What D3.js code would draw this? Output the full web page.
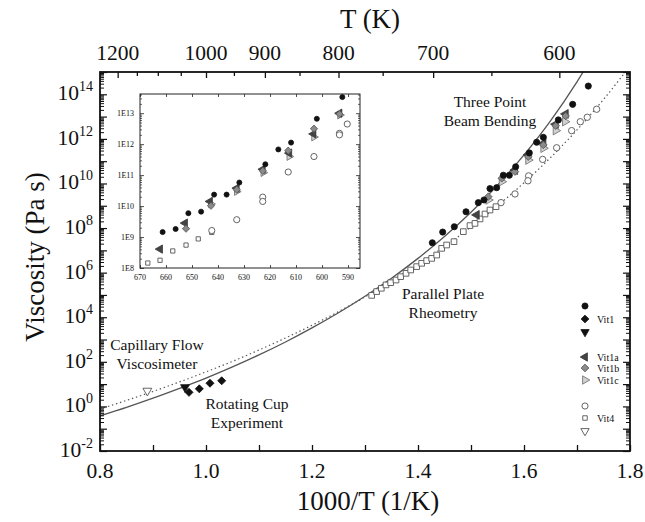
<!DOCTYPE html>
<html>
<head>
<meta charset="utf-8">
<script src="https://cdn.jsdelivr.net/npm/d3@7"></script>
<style>
  html, body { margin: 0; padding: 0; background: #fff; }
  svg { display: block; }
  text { font-family: "Liberation Serif", "Times New Roman", serif; fill: #111; }
</style>
</head>
<body>
<svg id="chart" width="645" height="522"></svg>
<script>
// ---- data: [1000/T (1/K), log10 viscosity (Pa s)] ----
const vit1Circles = [
  [1.7213, 14.37], [1.6918, 13.55], [1.6648, 12.85], [1.6365, 12.07], [1.6239, 11.85],
  [1.6100, 11.37], [1.5843, 10.75], [1.5723, 10.37], [1.5610, 10.37], [1.5484, 9.81],
  [1.5358, 9.77], [1.5245, 9.26], [1.5138, 9.14], [1.4906, 8.73], [1.4685, 8.06],
  [1.4466, 7.82], [1.4270, 7.34]
];
const vit1Diamonds = [[0.9679, 0.63], [0.9874, 0.79], [1.0075, 1.04], [1.0296, 1.15]];
const vit1DownTri = [[0.9604, 0.86]];
const vit1aLeftTri = [
  [1.5107, 8.59], [1.6786, 13.12], [1.6598, 12.66], [1.6365, 11.80], [1.6080, 11.28], [1.5830, 10.60]
];
const vit1bDiamonds = [
  [1.6786, 13.03], [1.6598, 12.59], [1.6365, 11.73], [1.6080, 11.20], [1.5830, 10.53],
  [1.5580, 10.23], [1.5327, 9.41]
];
const vit1cRightTri = [
  [1.6774, 12.77], [1.6598, 12.37], [1.6365, 11.58], [1.6080, 11.05], [1.5580, 10.08], [1.5327, 9.26]
];
const vit4Circles = [
  [1.7371, 13.33], [1.7194, 12.97], [1.7062, 12.77], [1.6899, 12.37], [1.6616, 11.60],
  [1.6352, 11.08], [1.6088, 10.34], [1.6075, 10.12], [1.5830, 9.53], [1.5566, 9.14]
];
const vit4Squares = [
  [1.3126, 4.98], [1.3219, 5.15], [1.3308, 5.30], [1.3396, 5.45], [1.3484, 5.55],
  [1.3585, 5.67], [1.3673, 5.82], [1.3774, 5.97], [1.3862, 6.12], [1.3975, 6.27],
  [1.4069, 6.42], [1.4164, 6.54], [1.4258, 6.64], [1.4353, 6.79], [1.4447, 7.09],
  [1.4540, 7.24], [1.4679, 7.39], [1.4855, 7.84], [1.4981, 8.11], [1.5075, 8.21],
  [1.5170, 8.41], [1.5264, 8.63], [1.5358, 8.81], [1.5472, 8.96]
];
const vit4DownTri = [[0.8893, 0.70]];

// VFT fit curves, read at regular 1000/T steps
const vit1Fit = [
  [0.80, -0.42], [0.85, -0.04], [0.90, 0.37], [0.95, 0.81], [1.00, 1.27], [1.05, 1.77],
  [1.10, 2.31], [1.15, 2.89], [1.20, 3.52], [1.25, 4.20], [1.30, 4.94], [1.35, 5.75],
  [1.40, 6.64], [1.45, 7.62], [1.50, 8.71], [1.55, 9.92], [1.60, 11.28], [1.65, 12.81],
  [1.70, 14.56], [1.72, 15.33]
];
const vit4Fit = [
  [0.80, -0.12], [0.85, 0.27], [0.90, 0.67], [0.95, 1.10], [1.00, 1.55], [1.05, 2.02],
  [1.10, 2.53], [1.15, 3.07], [1.20, 3.64], [1.25, 4.25], [1.30, 4.91], [1.35, 5.61],
  [1.40, 6.36], [1.45, 7.17], [1.50, 8.05], [1.55, 9.00], [1.60, 10.03], [1.65, 11.16],
  [1.70, 12.40], [1.75, 13.77], [1.80, 15.27]
];

// inset: [T (K), log10 viscosity (Pa s)]
const insetVit1 = [
  [661.3, 9.16], [656.3, 9.26], [651.4, 9.77], [646.5, 9.82], [641.5, 10.37], [636.7, 10.37],
  [631.8, 10.76], [621.8, 11.35], [616.8, 11.83], [611.9, 12.05], [602.0, 12.82], [592.2, 13.52]
];
const insetVit1a = [
  [662.3, 8.61], [652.7, 9.45], [643.1, 10.15], [632.8, 10.58], [622.8, 11.19],
  [612.6, 11.71], [603.3, 12.33], [593.3, 13.00]
];
const insetVit1b = [
  [652.3, 9.27], [642.7, 10.01], [632.8, 10.53], [622.8, 11.14], [613.0, 11.79],
  [603.1, 12.50], [593.3, 12.97]
];
const insetVit1c = [
  [642.7, 10.07], [632.8, 10.47], [622.6, 11.08], [612.6, 11.60], [603.1, 12.23], [593.1, 12.94]
];
const insetVit4Circles = [
  [642.4, 9.21], [632.8, 9.56], [622.8, 10.29], [622.8, 10.15], [613.0, 11.10],
  [603.1, 11.60], [593.3, 12.35], [593.3, 12.30], [590.3, 12.65]
];
const insetVit4Squares = [
  [667.0, 8.16], [662.3, 8.25], [657.4, 8.55], [652.3, 8.74], [647.6, 8.94], [642.4, 9.15]
];

// axis ticks
const xTickValues = [0.8, 0.9, 1.0, 1.1, 1.2, 1.3, 1.4, 1.5, 1.6, 1.7, 1.8];
const xTickLabels = ["0.8", "1.0", "1.2", "1.4", "1.6", "1.8"];
const tempTicks = [1200, 1150, 1100, 1050, 1000, 950, 900, 850, 800, 750, 700, 650, 600];
const tempLabels = [1200, 1000, 900, 800, 700, 600];
const yExponents = [-2, 0, 2, 4, 6, 8, 10, 12, 14];
const insetTempTicks = [670, 660, 650, 640, 630, 620, 610, 600, 590];
const insetExponents = [8, 9, 10, 11, 12, 13];

// legend entries
const legendItems = [
  { shape: "circle", style: "vit1", y: 306 },
  { shape: "diamond", style: "vit1", y: 319, label: "Vit1" },
  { shape: "down", style: "vit1", y: 332 },
  { shape: "left", style: "vit1a", y: 357, label: "Vit1a" },
  { shape: "diamond", style: "vit1b", y: 368, label: "Vit1b" },
  { shape: "right", style: "vit1c", y: 380, label: "Vit1c" },
  { shape: "circle", style: "vit4", y: 406 },
  { shape: "square", style: "vit4", y: 418, label: "Vit4" },
  { shape: "down", style: "vit4", y: 431 }
];

// ---- drawing ----
const svg = d3.select("#chart");
const plot = { left: 100, right: 630, top: 72, bottom: 451 };

const x = d3.scaleLinear().domain([0.8, 1.8]).range([plot.left, plot.right]);
const y = d3.scaleLog().domain([1e-2, 1e15]).range([plot.bottom, plot.top]);
const py = v => y(Math.pow(10, v));

const styles = {
  vit1:  { fill: "#111", stroke: "#111", sw: 0.8 },
  vit1a: { fill: "#444", stroke: "#333", sw: 0.8 },
  vit1b: { fill: "#8a8a8a", stroke: "#555", sw: 0.8 },
  vit1c: { fill: "#d0d0d0", stroke: "#777", sw: 0.9 },
  vit4:  { fill: "#fff", stroke: "#555", sw: 0.9 }
};

function symbolPath(shape, size) {
  const t = { circle: d3.symbolCircle, square: d3.symbolSquare, diamond: d3.symbolSquare,
              down: d3.symbolTriangle, left: d3.symbolTriangle, right: d3.symbolTriangle }[shape];
  return d3.symbol().type(t).size(size)();
}
const rot = { circle: 0, square: 0, diamond: 45, down: 180, left: -90, right: 90 };

function drawMarks(g, data, xs, ys, shape, style, size) {
  const s = styles[style];
  g.selectAll(null).data(data).enter().append("path")
    .attr("d", symbolPath(shape, size))
    .attr("transform", d => `translate(${xs(d[0])},${ys(d[1])}) rotate(${rot[shape]})`)
    .attr("fill", s.fill).attr("stroke", s.stroke).attr("stroke-width", s.sw);
}

// clip for the curves
svg.append("clipPath").attr("id", "plotClip").append("rect")
  .attr("x", plot.left).attr("y", plot.top)
  .attr("width", plot.right - plot.left).attr("height", plot.bottom - plot.top);

const line = d3.line().x(d => x(d[0])).y(d => py(d[1])).curve(d3.curveMonotoneX);
svg.append("path").datum(vit4Fit).attr("d", line).attr("clip-path", "url(#plotClip)")
  .attr("fill", "none").attr("stroke", "#555").attr("stroke-width", 1.2)
  .attr("stroke-dasharray", "1.4,2.8");
svg.append("path").datum(vit1Fit).attr("d", line).attr("clip-path", "url(#plotClip)")
  .attr("fill", "none").attr("stroke", "#555").attr("stroke-width", 1.3);

// main data markers
const gm = svg.append("g");
drawMarks(gm, vit4Squares, x, py, "square", "vit4", 32);
drawMarks(gm, vit4Circles, x, py, "circle", "vit4", 32);
drawMarks(gm, vit4DownTri, x, py, "down", "vit4", 34);
drawMarks(gm, vit1aLeftTri, x, py, "left", "vit1a", 34);
drawMarks(gm, vit1cRightTri, x, py, "right", "vit1c", 32);
drawMarks(gm, vit1bDiamonds, x, py, "diamond", "vit1b", 28);
drawMarks(gm, vit1Circles, x, py, "circle", "vit1", 30);
drawMarks(gm, vit1Diamonds, x, py, "diamond", "vit1", 32);
drawMarks(gm, vit1DownTri, x, py, "down", "vit1", 34);

// frame
svg.append("rect").attr("x", plot.left).attr("y", plot.top)
  .attr("width", plot.right - plot.left).attr("height", plot.bottom - plot.top)
  .attr("fill", "none").attr("stroke", "#111").attr("stroke-width", 1.8);

// bottom axis, ticks inward
const xAxis = svg.append("g").attr("transform", `translate(0,${plot.bottom})`)
  .call(d3.axisBottom(x).tickValues(xTickValues).tickSize(-6).tickFormat(""));
xAxis.select(".domain").remove();
xAxis.selectAll("line").attr("stroke", "#111").attr("stroke-width", 1.3);
svg.append("g").selectAll("text").data(xTickLabels).enter().append("text")
  .attr("x", d => x(+d)).attr("y", 478).attr("text-anchor", "middle")
  .attr("font-size", 21.5).text(d => d);

// top axis in temperature
const tAxis = svg.append("g").attr("transform", `translate(0,${plot.top})`)
  .call(d3.axisTop(x).tickValues(tempTicks.map(t => 1000 / t)).tickFormat("")
    .tickSizeOuter(0).tickSizeInner(0));
tAxis.select(".domain").remove();
tAxis.selectAll(".tick line")
  .attr("y2", d => tempLabels.some(t => Math.abs(1000 / t - d) < 1e-9) ? 6 : 4)
  .attr("stroke", "#111").attr("stroke-width", 1.3);
svg.append("g").selectAll("text").data(tempLabels).enter().append("text")
  .attr("x", d => x(1000 / d)).attr("y", 60).attr("text-anchor", "middle")
  .attr("font-size", 21.5).text(d => d);

// log ticks on left and right
const majorY = d3.range(-2, 16).map(e => Math.pow(10, e));
const minorY = [];
d3.range(-2, 15).forEach(e => { for (let k = 2; k <= 9; k++) minorY.push(k * Math.pow(10, e)); });
[[d3.axisLeft, plot.left], [d3.axisRight, plot.right]].forEach(([axisFn, xPos]) => {
  const gMaj = svg.append("g").attr("transform", `translate(${xPos},0)`)
    .call(axisFn(y).tickValues(majorY).tickSize(-7).tickFormat(""));
  gMaj.select(".domain").remove();
  gMaj.selectAll("line").attr("stroke", "#111").attr("stroke-width", 1.2);
  const gMin = svg.append("g").attr("transform", `translate(${xPos},0)`)
    .call(axisFn(y).tickValues(minorY).tickSize(-4).tickFormat(""));
  gMin.select(".domain").remove();
  gMin.selectAll("line").attr("stroke", "#111").attr("stroke-width", 1);
});
const yLab = svg.append("g").selectAll("text").data(yExponents).enter().append("text")
  .attr("x", 93).attr("y", d => py(d) + 6).attr("text-anchor", "end").attr("font-size", 21.5);
yLab.append("tspan").text("10");
yLab.append("tspan").attr("font-size", 14).attr("dy", -9).text(d => d);

// axis titles
svg.append("text").attr("x", 370).attr("y", 28).attr("text-anchor", "middle")
  .attr("font-size", 27).text("T (K)");
svg.append("text").attr("x", 368).attr("y", 510).attr("text-anchor", "middle")
  .attr("font-size", 27).text("1000/T (1/K)");
svg.append("text").attr("transform", "translate(44,257) rotate(-90)")
  .attr("text-anchor", "middle").attr("font-size", 27).text("Viscosity (Pa s)");

// region annotations
const notes = [
  { x: 490, y: 107, lines: ["Three Point", "Beam Bending"] },
  { x: 443, y: 299, lines: ["Parallel Plate", "Rheometry"] },
  { x: 157, y: 350, lines: ["Capillary Flow", "Viscosimeter"] },
  { x: 247, y: 409, lines: ["Rotating Cup", "Experiment"] }
];
notes.forEach(n => {
  n.lines.forEach((l, i) => svg.append("text").attr("x", n.x).attr("y", n.y + i * 19)
    .attr("text-anchor", "middle").attr("font-size", 15.5).text(l));
});

// legend
const lg = svg.append("g");
legendItems.forEach(it => {
  const s = styles[it.style];
  const size = it.shape === "square" ? 20 : 30;
  lg.append("path").attr("d", symbolPath(it.shape, size))
    .attr("transform", `translate(585,${it.y}) rotate(${rot[it.shape]})`)
    .attr("fill", s.fill).attr("stroke", s.stroke).attr("stroke-width", s.sw);
  if (it.label) lg.append("text").attr("x", 597).attr("y", it.y + 3.5)
    .attr("font-size", 10).text(it.label);
});

// ---- inset ----
const inset = { left: 140, right: 360, top: 94, bottom: 268 };
const xi = d3.scaleLinear().domain([670, 585.4]).range([inset.left, inset.right]);
const yi = d3.scaleLog().domain([1e8, Math.pow(10, 13.62)]).range([inset.bottom, inset.top]);
const pyi = v => yi(Math.pow(10, v));

const gi = svg.append("g");
gi.append("rect").attr("x", inset.left).attr("y", inset.top)
  .attr("width", inset.right - inset.left).attr("height", inset.bottom - inset.top)
  .attr("fill", "#fff");
drawMarks(gi, insetVit4Squares, xi, pyi, "square", "vit4", 18);
drawMarks(gi, insetVit4Circles, xi, pyi, "circle", "vit4", 30);
drawMarks(gi, insetVit1c, xi, pyi, "right", "vit1c", 26);
drawMarks(gi, insetVit1a, xi, pyi, "left", "vit1a", 30);
drawMarks(gi, insetVit1b, xi, pyi, "diamond", "vit1b", 26);
drawMarks(gi, insetVit1, xi, pyi, "circle", "vit1", 20);

gi.append("rect").attr("x", inset.left).attr("y", inset.top)
  .attr("width", inset.right - inset.left).attr("height", inset.bottom - inset.top)
  .attr("fill", "none").attr("stroke", "#222").attr("stroke-width", 1);

[[d3.axisBottom, inset.bottom], [d3.axisTop, inset.top]].forEach(([fn, yPos]) => {
  const a = gi.append("g").attr("transform", `translate(0,${yPos})`)
    .call(fn(xi).tickValues(insetTempTicks).tickSize(-3).tickFormat(""));
  a.select(".domain").remove();
  a.selectAll("line").attr("stroke", "#222").attr("stroke-width", 0.8);
});
const insetMajor = d3.range(8, 14).map(e => Math.pow(10, e));
const insetMinor = [];
d3.range(8, 14).forEach(e => { for (let k = 2; k <= 9; k++) {
  const v = k * Math.pow(10, e); if (v <= Math.pow(10, 13.62)) insetMinor.push(v); } });
[[d3.axisLeft, inset.left], [d3.axisRight, inset.right]].forEach(([fn, xPos]) => {
  const a = gi.append("g").attr("transform", `translate(${xPos},0)`)
    .call(fn(yi).tickValues(insetMajor).tickSize(-4).tickFormat(""));
  a.select(".domain").remove();
  a.selectAll("line").attr("stroke", "#222").attr("stroke-width", 0.8);
  const b = gi.append("g").attr("transform", `translate(${xPos},0)`)
    .call(fn(yi).tickValues(insetMinor).tickSize(-2).tickFormat(""));
  b.select(".domain").remove();
  b.selectAll("line").attr("stroke", "#222").attr("stroke-width", 0.7);
});
gi.selectAll(null).data(insetTempTicks).enter().append("text")
  .attr("x", d => xi(d)).attr("y", 280).attr("text-anchor", "middle")
  .attr("font-size", 8).text(d => d);
gi.selectAll(null).data(insetExponents).enter().append("text")
  .attr("x", 134).attr("y", d => yi(Math.pow(10, d)) + 3).attr("text-anchor", "end")
  .attr("font-size", 8).text(d => "1E" + d);
</script>
</body>
</html>
